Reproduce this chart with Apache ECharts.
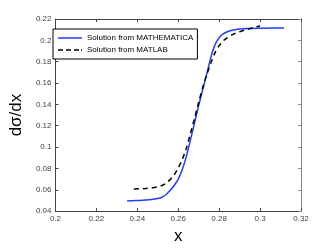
<!DOCTYPE html>
<html><head><meta charset="utf-8">
<script src="https://cdn.jsdelivr.net/npm/echarts@6/dist/echarts.min.js"></script>
<style>html,body{margin:0;padding:0;background:#fff}#c{width:332px;height:250px}</style>
</head><body><div id="c"></div>
<script>
const mathematicaX = [0.235,0.238,0.241,0.244,0.247,0.250,0.252,0.254,0.256,0.258,0.260,0.262,0.264,0.266,0.268,0.270,0.272,0.274,0.276,0.278,0.280,0.282,0.284,0.287,0.290,0.294,0.300,0.306,0.3117];
const mathematicaY = [0.0495,0.0498,0.0500,0.0503,0.0508,0.0518,0.0530,0.0553,0.0592,0.0640,0.0700,0.0790,0.0915,0.1070,0.1230,0.1390,0.1540,0.1690,0.1845,0.1960,0.2025,0.2060,0.2080,0.2097,0.2106,0.2111,0.2114,0.2116,0.2116];
const matlabX = [0.2383,0.241,0.244,0.247,0.250,0.252,0.254,0.256,0.258,0.260,0.262,0.264,0.266,0.268,0.270,0.272,0.274,0.276,0.278,0.280,0.282,0.284,0.287,0.290,0.294,0.297,0.300];
const matlabY = [0.0608,0.0609,0.0612,0.0617,0.0627,0.0640,0.0660,0.0695,0.0740,0.0805,0.0885,0.0990,0.1130,0.1270,0.1420,0.1560,0.1680,0.1790,0.1885,0.1950,0.1995,0.2025,0.2058,0.2080,0.2105,0.2120,0.2135];
const xTicks = [0.2,0.22,0.24,0.26,0.28,0.3,0.32];
const yTicks = [0.04,0.06,0.08,0.1,0.12,0.14,0.16,0.18,0.2,0.22];
const seriesNames = ['Solution from MATHEMATICA','Solution from MATLAB'];

const pairs = (xs, ys) => xs.map((x,i)=>[x, ys[i]]);
const fnt = 'Liberation Sans, Arial, sans-serif';
const axisCol = '#444';
const chart = echarts.init(document.getElementById('c'), null, {renderer:'canvas'});
chart.setOption({
  animation:false,
  backgroundColor:'#fff',
  grid:{left:45,right:31,top:19,bottom:32},
  legend:{
    left:53, top:29, orient:'vertical', itemGap:4,
    padding:[5,4,5,5],
    borderColor:'#000', borderWidth:1, backgroundColor:'#fff',
    itemWidth:24, itemHeight:1.5,
    textStyle:{fontFamily:fnt,fontSize:8,color:'#000'},
    data:[
      {name:seriesNames[0], icon:'path://M0,0H24V1.5H0Z', itemStyle:{color:'#1f3fff'}},
      {name:seriesNames[1], icon:'path://M0,0H5V1.5H0ZM8,0H13V1.5H8ZM16,0H21V1.5H16ZM23,0H24V1.5H23Z', itemStyle:{color:'#000'}}
    ]
  },
  xAxis:[{
    type:'value', min:xTicks[0], max:xTicks[xTicks.length-1], interval:0.02,
    axisLine:{lineStyle:{color:axisCol,width:1}},
    axisTick:{inside:true,length:3,lineStyle:{color:axisCol}},
    axisLabel:{fontFamily:fnt,fontSize:8,color:'#444',margin:4,formatter:v=>String(+v.toFixed(2))},
    splitLine:{show:false},
    name:'x', nameLocation:'middle', nameGap:14,
    nameTextStyle:{fontFamily:fnt,fontSize:17,color:'#000'}
  },{
    type:'value', position:'top', min:xTicks[0], max:xTicks[xTicks.length-1], interval:0.02,
    axisLine:{lineStyle:{color:axisCol,width:1}},
    axisTick:{inside:true,length:3,lineStyle:{color:axisCol}},
    axisLabel:{show:false}, splitLine:{show:false}
  }],
  yAxis:[{
    type:'value', min:yTicks[0], max:yTicks[yTicks.length-1], interval:0.02,
    axisLine:{show:true,lineStyle:{color:axisCol,width:1}},
    axisTick:{show:true,inside:true,length:3,lineStyle:{color:axisCol}},
    axisLabel:{fontFamily:fnt,fontSize:8,color:'#444',margin:4,formatter:v=>String(+v.toFixed(2))},
    splitLine:{show:false},
    name:'dσ/dx', nameLocation:'middle', nameGap:28, nameRotate:90,
    nameTextStyle:{fontFamily:fnt,fontSize:17,color:'#000'}
  },{
    type:'value', position:'right', min:yTicks[0], max:yTicks[yTicks.length-1], interval:0.02,
    axisLine:{show:true,lineStyle:{color:'#888',width:1}},
    axisTick:{show:true,inside:true,length:3,lineStyle:{color:'#888'}},
    axisLabel:{show:false}, splitLine:{show:false}
  }],
  series:[{
    name:seriesNames[0], type:'line', smooth:0.3, showSymbol:false, symbol:'none',
    data:pairs(mathematicaX, mathematicaY),
    lineStyle:{color:'#1f3fff',width:1.5}, itemStyle:{color:'#1f3fff'}
  },{
    name:seriesNames[1], type:'line', smooth:0.3, showSymbol:false, symbol:'none',
    data:pairs(matlabX, matlabY),
    lineStyle:{color:'#000',width:1.5,type:[5,4]}, itemStyle:{color:'#000'}
  }]
});
</script></body></html>
